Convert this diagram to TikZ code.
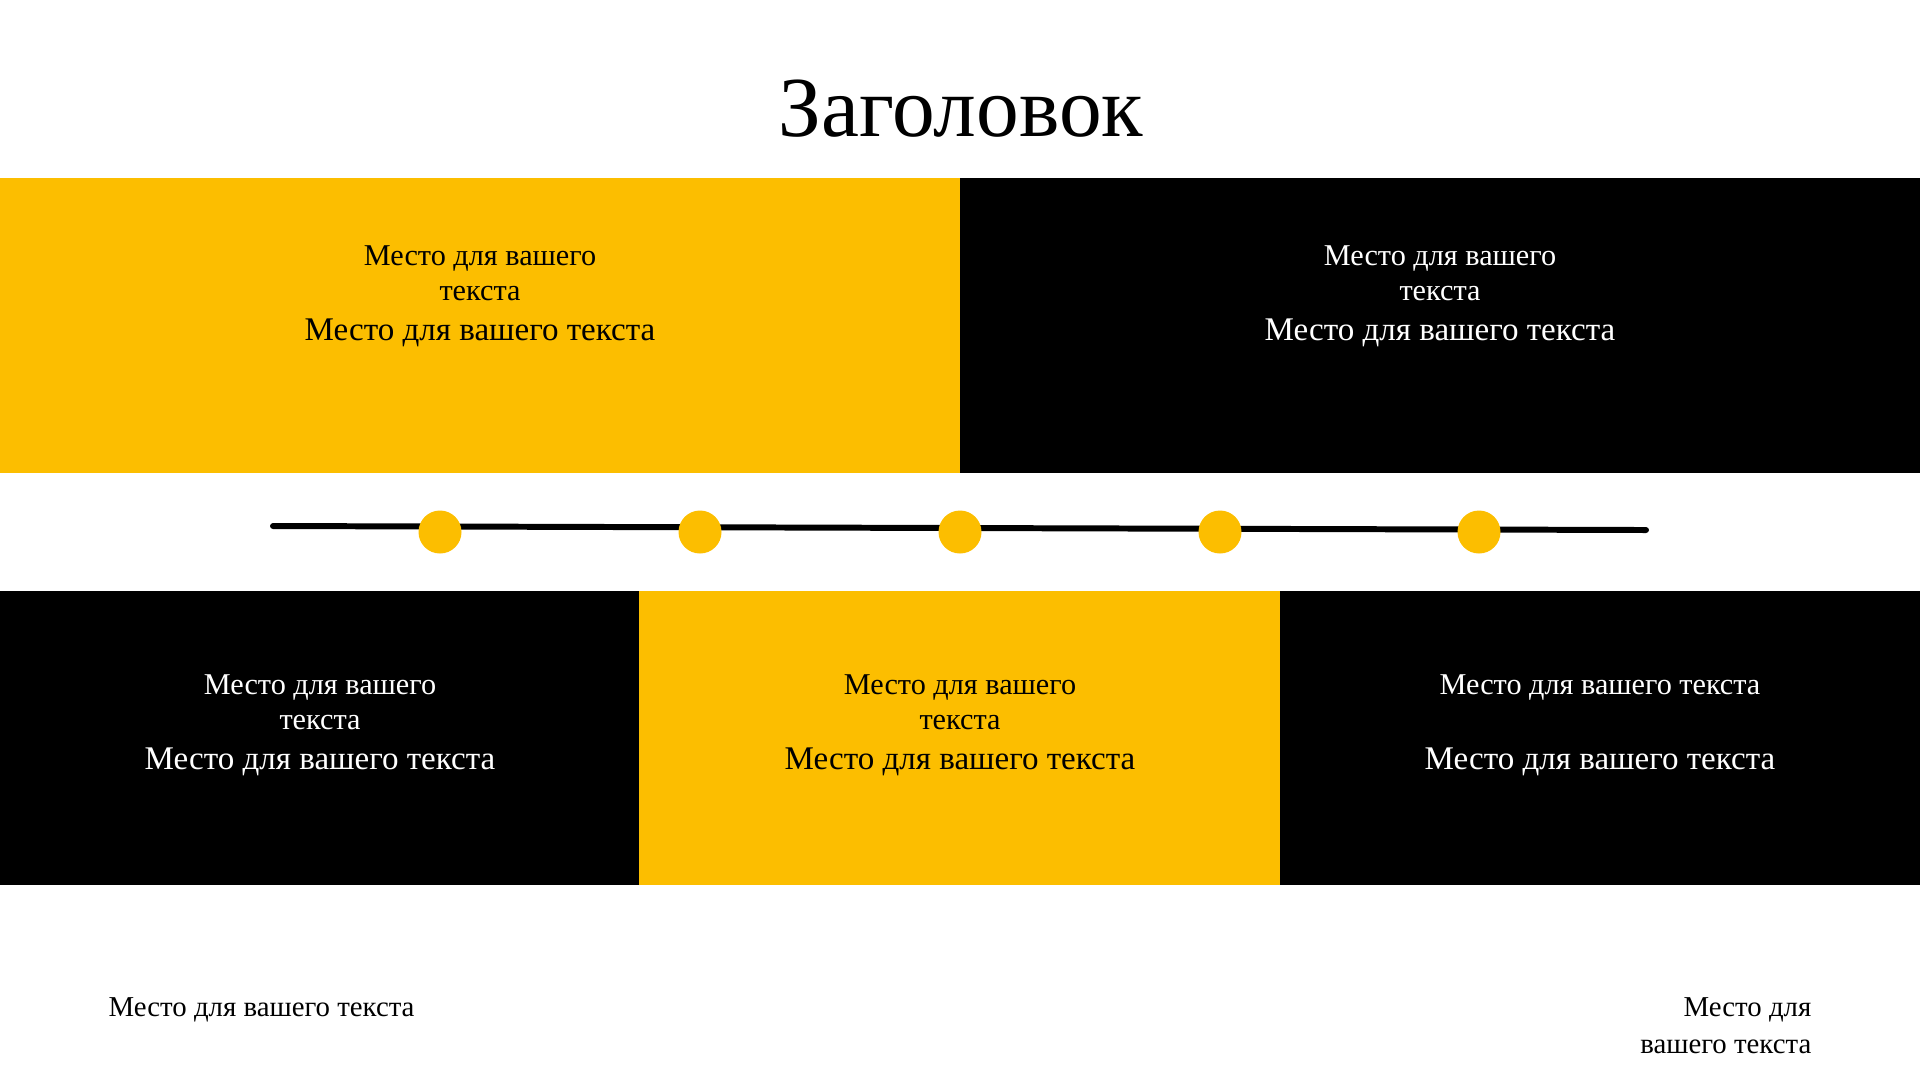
\documentclass[tikz,border=0pt]{standalone}
\usepackage{fontspec}
\setmainfont{Liberation Serif}
\usepackage{tikz}
\definecolor{gold}{RGB}{252,190,0}
\newcommand{\milestone}[1]{
  \fill [color=gold] (#1) circle (2.15mm)
}
\tikzset{
  small/.style={anchor=base, inner sep=0pt, font=\fontsize{8.6}{10}\selectfont},
  big/.style={anchor=base, inner sep=0pt, font=\fontsize{9.4}{11}\selectfont},
  note/.style={inner sep=0pt, font=\fontsize{8.2}{10}\selectfont}
}

\begin{document}
\begin{tikzpicture}[x=0.1mm,y=-0.1mm]
\useasboundingbox (0,0) rectangle (1920,1080);

% title
\node [anchor=base, inner sep=0pt, font=\fontsize{24.3}{28}\selectfont] (T) at (961,136) {Заголовок};

% top row
\fill [color=gold]  (0,178)   rectangle (960,473);
\fill [color=black] (960,178) rectangle (1920,473);

% bottom row
\fill [color=black] (0,591)    rectangle (639,885);
\fill [color=gold]  (639,591)  rectangle (1280,885);
\fill [color=black] (1280,591) rectangle (1920,885);

% text of B1
\node [small] (B1a) at (480,265) {Место для вашего};
\node [small] (B1b) at (480,300) {текста};
\node [big]   (B1c) at (480,340) {Место для вашего текста};

% text of B2
\node [small, white] (B2a) at (1440,265) {Место для вашего};
\node [small, white] (B2b) at (1440,300) {текста};
\node [big, white]   (B2c) at (1440,340) {Место для вашего текста};

% text of B3
\node [small, white] (B3a) at (320,694) {Место для вашего};
\node [small, white] (B3b) at (320,729) {текста};
\node [big, white]   (B3c) at (320,769) {Место для вашего текста};

% text of B4
\node [small] (B4a) at (960,694) {Место для вашего};
\node [small] (B4b) at (960,729) {текста};
\node [big]   (B4c) at (960,769) {Место для вашего текста};

% text of B5
\node [small, white] (B5a) at (1600,694) {Место для вашего текста};
\node [big, white]   (B5c) at (1600,769) {Место для вашего текста};

% timeline
\coordinate (L0) at (273,526);
\coordinate (L1) at (1646,530);
\draw [line width=1.7pt, line cap=round] (L0) to (L1);

% milestones
\coordinate (M1) at (440,532);
\coordinate (M2) at (700,532);
\coordinate (M3) at (960,532);
\coordinate (M4) at (1220,532);
\coordinate (M5) at (1479,532);
\milestone {M1};
\milestone {M2};
\milestone {M3};
\milestone {M4};
\milestone {M5};

% notes at the bottom
\node [note, anchor=base west] (N1) at (108,1016) {Место для вашего текста};
\node [note, anchor=base east] (N2) at (1812,1016) {Место для};
\node [note, anchor=base east] (N3) at (1812,1053) {вашего текста};

\end{tikzpicture}
\end{document}
